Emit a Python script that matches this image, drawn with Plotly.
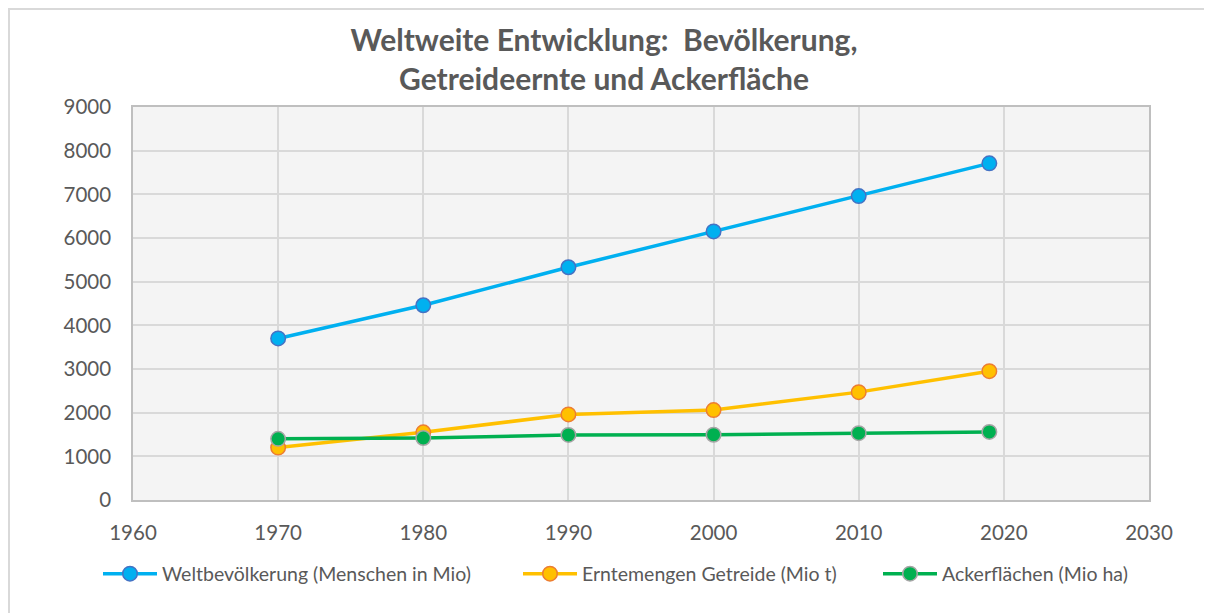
import plotly.graph_objects as go

years = [1970, 1980, 1990, 2000, 2010, 2019]
population = [3700, 4460, 5330, 6150, 6960, 7710]
cereal = [1200, 1550, 1960, 2060, 2470, 2950]
arable = [1400, 1420, 1490, 1495, 1530, 1560]

names = ["Weltbevölkerung (Menschen in Mio)", "Erntemengen Getreide (Mio t)", "Ackerflächen (Mio ha)"]
line_colors = ["#00b0f0", "#ffc000", "#00b050"]
edge_colors = ["#4472c4", "#ed7d31", "#a5a5a5"]
series = [population, cereal, arable]
legend_ids = ["legend", "legend2", "legend3"]
legend_starts = [103, 523, 883]  # page x of each legend entry's line start

x_ticks = [1960, 1970, 1980, 1990, 2000, 2010, 2020, 2030]
y_ticks = [0, 1000, 2000, 3000, 4000, 5000, 6000, 7000, 8000, 9000]

FONT = "Lato"
OFF = 8  # page body margin
W, H = 1212, 613
L, R, T, B = 133 - OFF, 1149 - OFF, 107 - OFF, 500 - OFF

fig = go.Figure()
for name, vals, lc, ec, lg in zip(names, series, line_colors, edge_colors, legend_ids):
    fig.add_trace(go.Scatter(
        x=years, y=vals, name=name, mode="lines+markers", legend=lg,
        line=dict(color=lc, width=3.5),
        marker=dict(size=14.5, color=lc, line=dict(color=ec, width=1.5)),
    ))

legend_common = dict(
    orientation="h", xref="container", xanchor="left",
    y=1 - (574 - OFF) / H, yref="container", yanchor="middle",
    font=dict(family=FONT, size=19.5, color="#595959"),
    itemwidth=54, bgcolor="rgba(0,0,0,0)",
)
legends = {}
for lg, xs in zip(legend_ids, legend_starts):
    legends[lg] = dict(legend_common, x=(xs - 5 - OFF) / W)

fig.update_layout(
    width=W, height=H,
    margin=dict(l=L, r=W - R, t=T, b=H - B, autoexpand=False),
    paper_bgcolor="white", plot_bgcolor="#f4f4f4",
    font=dict(family=FONT, color="#595959", size=17),
    title=dict(
        text="<b>Weltweite Entwicklung:  Bevölkerung,<br>Getreideernte und Ackerfläche</b>",
        x=(604 - OFF) / W, xref="container", xanchor="center",
        y=1 - (60 - 9 - OFF) / H, yref="container", yanchor="middle",
        font=dict(family=FONT, size=30, color="#595959"),
    ),
    showlegend=True,
    **legends,
    xaxis=dict(
        range=[1960, 2030], tickvals=x_ticks, ticktext=[str(v) for v in x_ticks],
        showgrid=True, gridcolor="#d9d9d9", gridwidth=2,
        showline=True, linecolor="#bfbfbf", linewidth=1.5, mirror=True,
        zeroline=False, ticks="", ticklabelstandoff=14,
        tickfont=dict(family=FONT, size=20.5, color="#595959"),
    ),
    yaxis=dict(
        range=[0, 9000], tickvals=y_ticks, ticktext=[str(v) for v in y_ticks],
        showgrid=True, gridcolor="#d9d9d9", gridwidth=2,
        showline=True, linecolor="#bfbfbf", linewidth=1.5, mirror=True,
        zeroline=False, ticks="", ticklabelstandoff=16,
        tickfont=dict(family=FONT, size=20.5, color="#595959"),
    ),
)

# outer chart frame
pw, ph = R - L, B - T
fig.add_shape(type="rect", xref="paper", yref="paper",
              x0=(1 - L) / pw, x1=(W + 20 - L) / pw,
              y0=(B - (H + 20)) / ph, y1=(B - 1) / ph,
              line=dict(color="#d9d9d9", width=2), fillcolor="rgba(0,0,0,0)", layer="below")

fig.write_html("out.html")
